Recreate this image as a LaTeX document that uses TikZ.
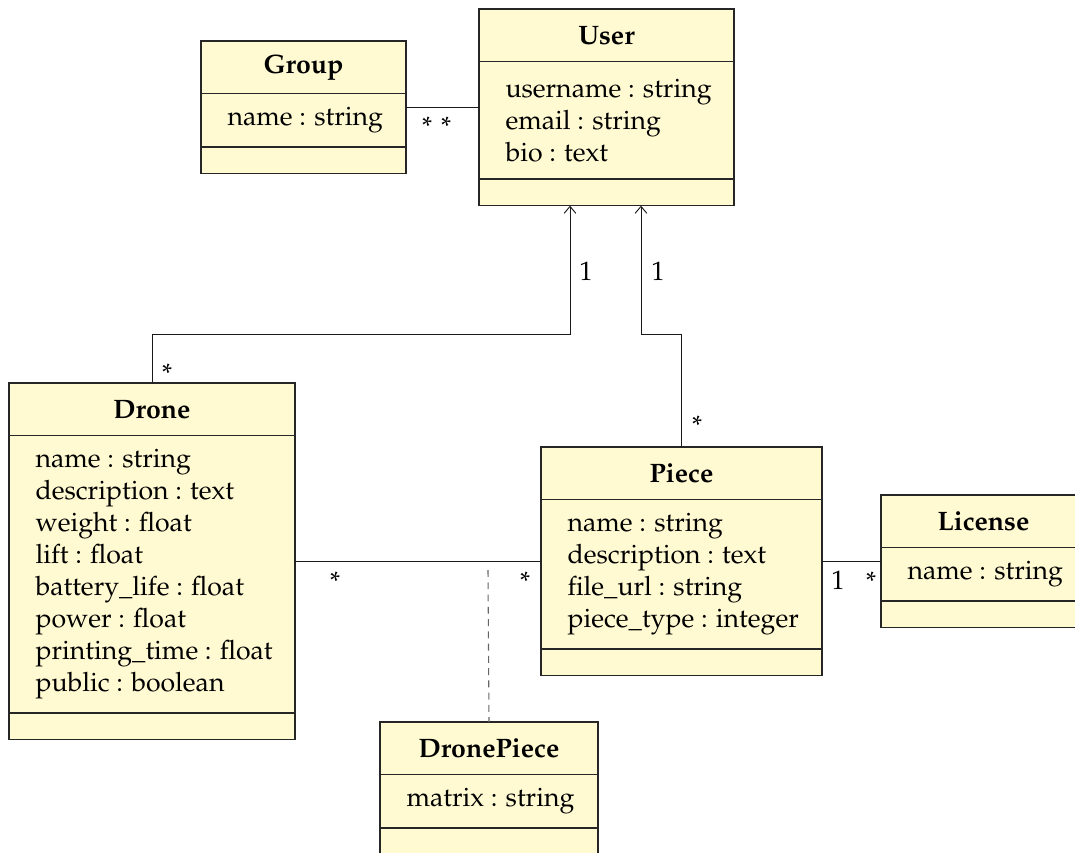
\documentclass[tikz,border=0pt]{standalone}
\usepackage[T1]{fontenc}
\usepackage{mathpazo}
\usetikzlibrary{arrows.meta,fit}

\definecolor{umlfill}{RGB}{255,250,210}

\tikzset{
  part/.style={draw=black!85, fill=umlfill, line width=0.4pt, inner sep=0pt,
    outer sep=0pt, anchor=north west},
  classname/.style={part, font=\bfseries},
  members/.style={anchor=west, align=left, inner sep=0pt},
  hull/.style={inner sep=0pt, outer sep=0pt},
  assoc/.style={draw=black!90, line width=0.35pt},
  navig/.style={assoc, -{Straight Barb[length=2.6pt,width=4.4pt]}},
  assocclass/.style={draw=black!60, line width=0.4pt, dash pattern=on 2.6pt off 2pt},
  mult/.style={inner sep=0pt, anchor=center},
}

% A class box: name, x, y (north west corner), width, title,
% height of the attribute part, attribute lines
\newcommand{\umlbox}[7]{%
  \node[classname, minimum width=#4, minimum height=19.75pt] (#1-t) at (#2,#3) {#5};
  \node[part, minimum width=#4, minimum height=#6] (#1-a) at (#1-t.south west) {};
  \node[members] (#1-m) at ([xshift=9.75pt]#1-a.west) {#7};
  \node[part, minimum width=#4, minimum height=10pt] (#1-o) at (#1-a.south west) {};
  \node[hull, fit=(#1-t)(#1-o)] (#1) {};
}

\begin{document}
\begin{tikzpicture}[x=0.375pt, y=-0.375pt]
\useasboundingbox (0,0) rectangle (1075,852);

% classes
\umlbox{group}{201}{41}{76.875pt}{Group}{20pt}{name : string}
\umlbox{user}{479}{9}{95.625pt}{User}{44pt}{username : string\\email : string\\bio : text}
\umlbox{drone}{9}{383}{107.25pt}{Drone}{104pt}{name : string\\description : text\\weight : float\\lift : float\\battery\_life : float\\power : float\\printing\_time : float\\public : boolean}
\umlbox{piece}{541}{447}{105.375pt}{Piece}{56pt}{name : string\\description : text\\file\_url : string\\piece\_type : integer}
\umlbox{license}{881}{495}{76.875pt}{License}{20pt}{name : string}
\umlbox{dronepiece}{380}{722}{81.75pt}{DronePiece}{20pt}{matrix : string}

% bend points and association-class anchor
\coordinate (bendA) at (570,334);
\coordinate (bendB) at (641,334);
\coordinate (assocpt) at (488,570);

% associations
\draw[assoc] (group.east) -- (user.west);
\draw[navig] (drone.north) |- (bendA) -- (bendA |- user.south);
\draw[navig] (piece.north) |- (bendB) -- (bendB |- user.south);
\draw[assoc] (drone.east) -- (piece.west);
\draw[assoc] (piece.east) -- (license.west);
\draw[assocclass] (assocpt) -- (dronepiece.north);

% multiplicities
\node[mult] (mg) at (427,126) {*};
\node[mult] (mu) at (446,126) {*};
\node[mult] (mdu) at (586,271) {1};
\node[mult] (mdd) at (167,373) {*};
\node[mult] (mpu) at (658,271) {1};
\node[mult] (mpp) at (697,425) {*};
\node[mult] (mdp) at (335,581) {*};
\node[mult] (mpd) at (525,581) {*};
\node[mult] (mpl) at (838,580) {1};
\node[mult] (mlp) at (871,581) {*};
\end{tikzpicture}
\end{document}
